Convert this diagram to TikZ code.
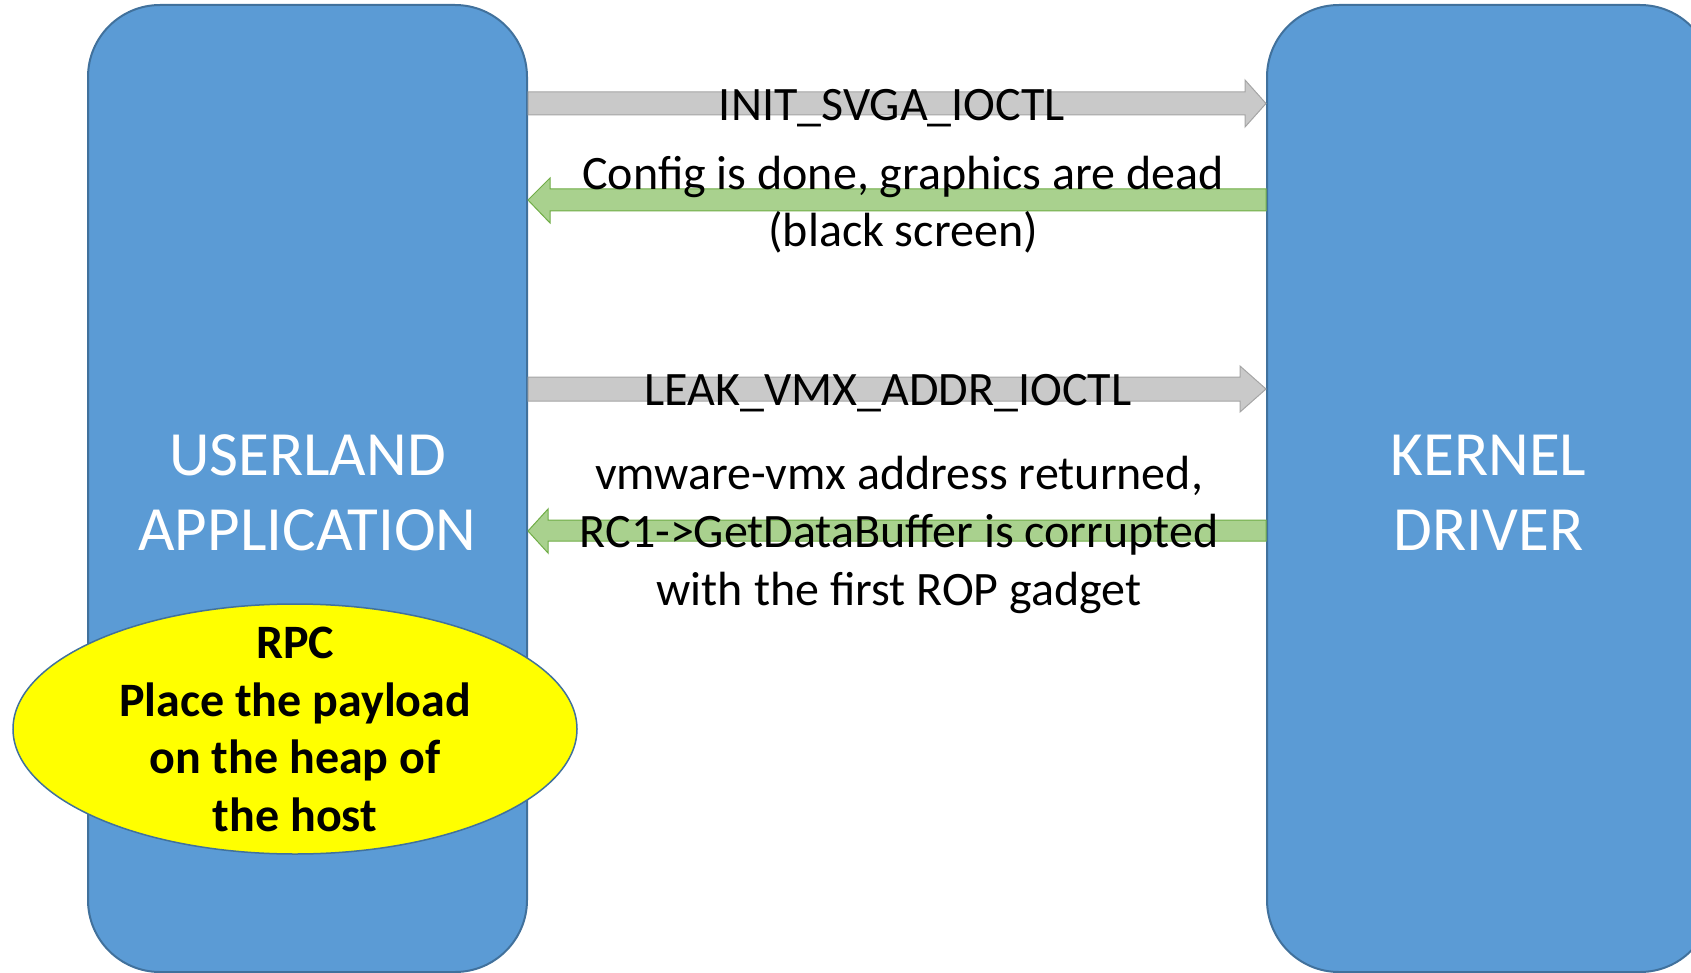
\documentclass[tikz,border=0pt]{standalone}
\usepackage{fontspec}
\setmainfont{Carlito}
\usetikzlibrary{shapes.geometric}
\definecolor{boxblue}{HTML}{5B9BD5}
\definecolor{boxline}{HTML}{41719C}
\definecolor{arrgray}{HTML}{C9C9C9}
\definecolor{arrgrayline}{HTML}{A5A5A5}
\definecolor{arrgreen}{HTML}{A9D18E}
\definecolor{arrgreenline}{HTML}{70AD47}
\definecolor{rpcyellow}{HTML}{FFFF00}
\begin{document}
\begin{tikzpicture}[x=0.5pt,y=-0.5pt,
  bigbox/.style={draw=boxline, fill=boxblue, line width=1pt, rounded corners=36pt,
    minimum height=483.5pt, inner sep=0pt, text=white, align=center,
    font=\fontsize{31.5}{37.5}\selectfont},
  grayarr/.style={draw=arrgrayline, fill=arrgray, line width=0.5pt, line join=miter},
  greenarr/.style={draw=arrgreenline, fill=arrgreen, line width=0.5pt, line join=miter},
  msg/.style={inner sep=0pt, align=center, text=black, font=\fontsize{24}{28.8}\selectfont},
  rpc/.style={draw=boxline, fill=rpcyellow, line width=0.75pt, ellipse, inner sep=0pt,
    minimum width=282pt, minimum height=125pt},
  rpctext/.style={inner sep=0pt, align=center, text=black, font=\bfseries\fontsize{24}{28.8}\selectfont}]
\useasboundingbox (0,0) rectangle (1691,973);
\clip (0,0) rectangle (1691,973);
\node[bigbox, minimum width=219.5pt] (user) at (307.5,488.5) {};
\node[bigbox, minimum width=222.5pt] (kern) at (1489.5,488.5) {};
\node[text=white, align=center, inner sep=0pt, font=\fontsize{31.5}{37.5}\selectfont] (userlbl) at (307.5,492.5) {USERLAND\\APPLICATION};
\node[text=white, align=center, inner sep=0pt, font=\fontsize{31.5}{37.5}\selectfont] (kernlbl) at (1488.5,492.5) {KERNEL\\DRIVER};
% arrows
\draw[grayarr] (user.east |- 0,92) -- (1245,92) -- (1245,80) -- (kern.west |- 0,103.5)
  -- (1245,127) -- (1245,115) -- (user.east |- 0,115) -- cycle;
\draw[greenarr] (kern.west |- 0,189) -- (550,189) -- (550,178) -- (user.east |- 0,200)
  -- (550,223) -- (550,211) -- (kern.west |- 0,211) -- cycle;
\draw[grayarr] (user.east |- 0,377) -- (1240,377) -- (1240,366) -- (kern.west |- 0,389)
  -- (1240,412) -- (1240,401) -- (user.east |- 0,401) -- cycle;
\draw[greenarr] (kern.west |- 0,520) -- (548,520) -- (548,509) -- (user.east |- 0,531)
  -- (548,553) -- (548,541) -- (kern.west |- 0,541) -- cycle;
% messages
\node[msg] (m1) at (892,108) {INIT\_SVGA\_IOCTL};
\node[msg] (m2) at (903,204.5) {Config is done, graphics are dead\\(black screen)};
\node[msg] (m3) at (888,393) {LEAK\_VMX\_ADDR\_IOCTL};
\node[msg] (m4) at (899,535) {vmware-vmx address returned,\\RC1->GetDataBuffer is corrupted\\with the first ROP gadget};
% RPC ellipse
\node[rpc] (rpc) at (295,729) {};
\node[rpctext] (rpct) at (295,729.5) {RPC\\Place the payload\\on the heap of\\the host};
\end{tikzpicture}
\end{document}
